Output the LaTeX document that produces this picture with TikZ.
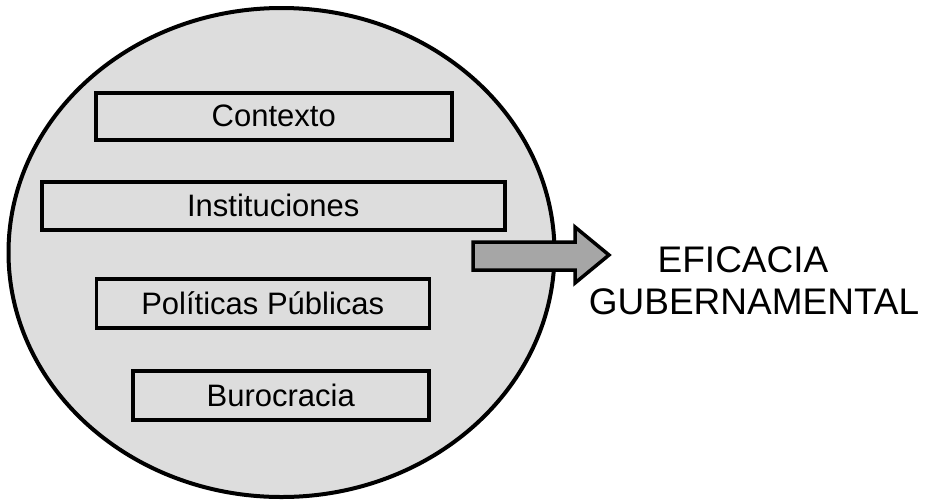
\documentclass[tikz,border=0pt]{standalone}
\usepackage{fontspec}
\setmainfont{Liberation Sans}
\usetikzlibrary{shapes.geometric}
\definecolor{bgray}{HTML}{DDDDDD}
\definecolor{agray}{HTML}{A6A6A6}
\tikzset{
  factor/.style={draw=black, line width=3.5pt, fill=bgray, inner sep=0pt, anchor=north west,
    font=\fontsize{31}{36}\selectfont},
  result/.style={font=\fontsize{37}{42}\selectfont, inner sep=0pt, anchor=base},
}
\begin{document}
\begin{tikzpicture}[x=1pt,y=-1pt]
\useasboundingbox (0,0) rectangle (926,499);
\node[draw=black, line width=4pt, fill=bgray, ellipse, minimum width=546pt, minimum height=489pt, inner sep=0pt] (circ) at (281.5,252.5) {};
\node[factor, minimum width=356pt, minimum height=47pt] (ctx) at (94,91) {Contexto};
\node[factor, minimum width=463pt, minimum height=48pt] (inst) at (40,180) {Instituciones};
\node[factor, minimum width=333pt, minimum height=49pt] (pol) at (94.5,277) {Políticas Públicas};
\node[factor, minimum width=296pt, minimum height=49pt] (buro) at (131,369) {Burocracia};
\node[result] (ef) at (743,272) {EFICACIA};
\node[result] (gub) at (754,314) {GUBERNAMENTAL};
\draw[line width=3.5pt, fill=agray, line join=miter]
  (473,242) -- (575,242) -- (575,227) -- (609,255) -- (575,283) -- (575,270) -- (473,270) -- cycle;
\end{tikzpicture}
\end{document}
